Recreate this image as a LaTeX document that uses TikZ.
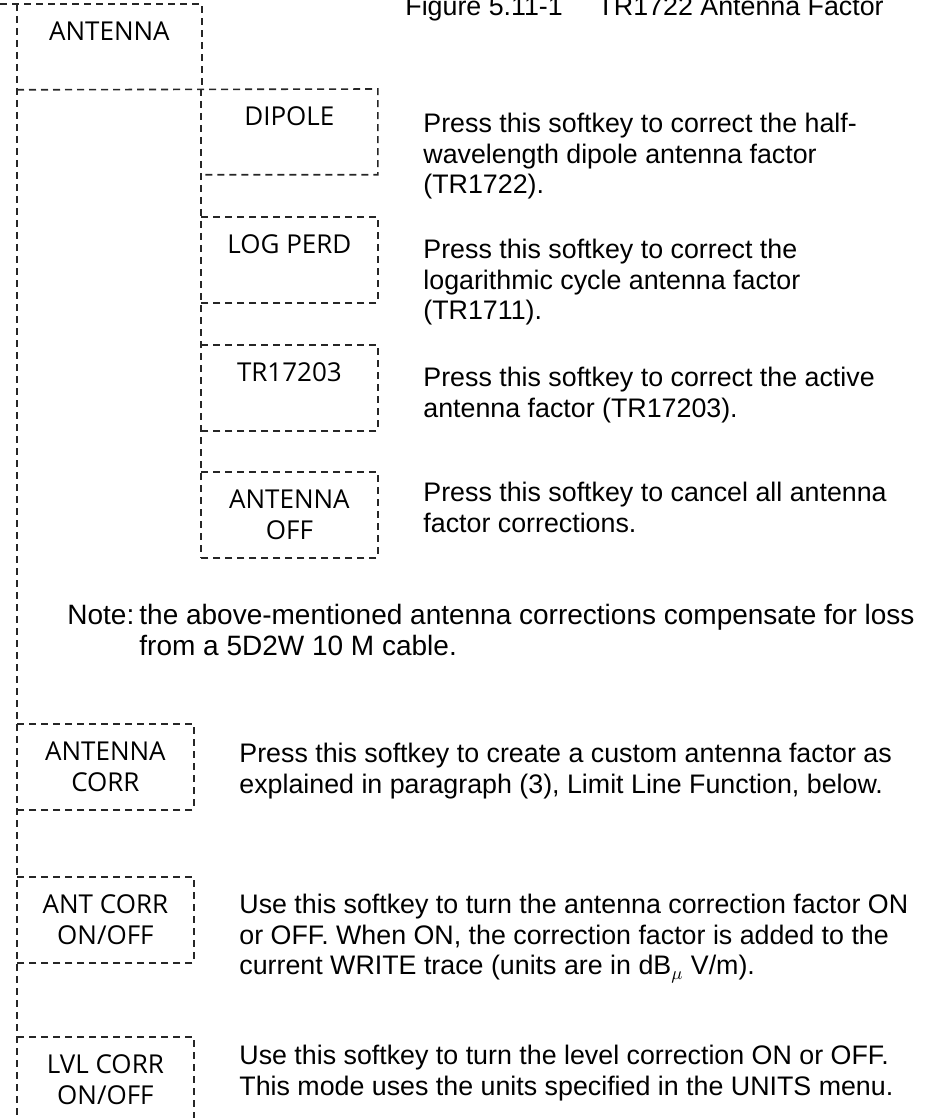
\documentclass[tikz,border=0pt]{standalone}
\usepackage{fontspec}
\setmainfont{Liberation Sans}
\newfontfamily\keyfont{Open Sans}
\usetikzlibrary{positioning}

\tikzset{
  keybox/.style={minimum width=88pt,minimum height=42.5pt,inner sep=0pt,anchor=north west,
    align=center,font=\keyfont\fontsize{13}{15.5}\selectfont},
  dashline/.style={dash pattern=on 3.5pt off 2.5pt,line width=0.8pt,black!85},
  desc/.style={anchor=north west,align=left,inner sep=0pt,font=\fontsize{13.4}{15.25}\selectfont},
  notetext/.style={desc,font=\fontsize{14}{15.25}\selectfont},
}

\begin{document}
\begin{tikzpicture}[x=0.5pt,y=-0.5pt,line cap=butt]
\useasboundingbox (0,0) rectangle (928,1118);
% caption, cut by the top edge
\node[desc,anchor=base west] (caption) at (405,16) {Figure 5.11-1\hspace{1.3em}TR1722 Antenna Factor};

% softkeys
\node[keybox,minimum width=92pt] (antenna) at (17,4) {ANTENNA\\\phantom{X}};
\node[keybox] (dipole) at (201,89) {DIPOLE\\\phantom{X}};
\node[keybox] (logperd) at (201,217) {LOG PERD\\\phantom{X}};
\node[keybox] (tr17203) at (201,345) {TR17203\\\phantom{X}};
\node[keybox] (antoff) at (201,472) {ANTENNA\\OFF};
\node[keybox] (antcorr) at (17,724) {ANTENNA\\CORR};
\node[keybox] (antcorrsw) at (17,877) {ANT CORR\\ON/OFF};
\node[keybox] (lvlcorr) at (17,1037) {LVL CORR\\ON/OFF};

% menu tree
\coordinate (topend) at (0,4);
\coordinate (bottomend) at (17,1118);
\draw[dashline] (topend) -- (antenna.north east) -- (antenna.south east);
\draw[dashline] (antenna.north west) -- (bottomend);
\draw[dashline] (antenna.south west) -- (dipole.north east) -- (dipole.south east) -- (dipole.south west);
\draw[dashline] (dipole.north west) -- (antoff.south west);
\foreach \k in {logperd,tr17203,antoff,antcorr,antcorrsw,lvlcorr}
  \draw[dashline] (\k.north west) -- (\k.north east) -- (\k.south east) -- (\k.south west);

% descriptions
\node[desc] (dipoletxt) at (423,113) {Press this softkey to correct the half-\\wavelength dipole antenna factor\\(TR1722).};
\node[desc] (logperdtxt) at (423,239) {Press this softkey to correct the\\logarithmic cycle antenna factor\\(TR1711).};
\node[desc] (tr17203txt) at (423,367) {Press this softkey to correct the active\\antenna factor (TR17203).};
\node[desc] (antofftxt) at (423,482) {Press this softkey to cancel all antenna\\factor corrections.};
\node[notetext] (notetxt) at (139,604) {the above-mentioned antenna corrections compensate for loss\\from a 5D2W 10 M cable.};
\node[notetext,anchor=base west] (notelbl) at (67,624.5) {Note:};
\node[desc] (antcorrtxt) at (239,743) {Press this softkey to create a custom antenna factor as\\explained in paragraph (3), Limit Line Function, below.};
\node[desc] (antcorrswtxt) at (239,894) {Use this softkey to turn the antenna correction factor ON\\or OFF. When ON, the correction factor is added to the\\current WRITE trace (units are in dB$_\mu$ V/m).};
\node[desc] (lvlcorrtxt) at (239,1045) {Use this softkey to turn the level correction ON or OFF.\\This mode uses the units specified in the UNITS menu.};
\end{tikzpicture}
\end{document}
